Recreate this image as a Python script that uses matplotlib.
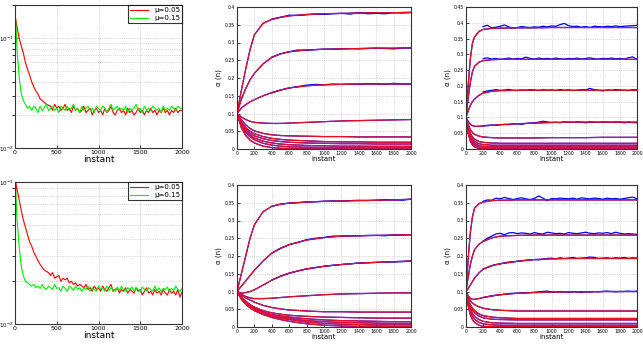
import numpy as np
import matplotlib
matplotlib.use("Agg")
import matplotlib.pyplot as plt
from matplotlib.ticker import NullFormatter, LogLocator

# ---- left panels: learning curves (log scale) ----
x_left = np.r_[0, 8, np.arange(25, 2001, 25)]

top_red = [0.030, 0.150,
           0.125, 0.100, 0.085, 0.073, 0.060, 0.052, 0.046, 0.040,
           0.036, 0.033, 0.031, 0.028, 0.027, 0.026, 0.025, 0.0245,
           0.024, 0.022, 0.025, 0.023, 0.024, 0.022, 0.023, 0.025,
           0.022, 0.023, 0.021, 0.024, 0.022, 0.023, 0.021, 0.022,
           0.024, 0.021, 0.022, 0.023, 0.020, 0.022, 0.023, 0.021,
           0.022, 0.020, 0.023, 0.021, 0.022, 0.024, 0.021, 0.020,
           0.022, 0.023, 0.021, 0.022, 0.020, 0.023, 0.021, 0.022,
           0.020, 0.021, 0.023, 0.021, 0.022, 0.020, 0.022, 0.021,
           0.023, 0.021, 0.022, 0.020, 0.022, 0.021, 0.023, 0.021,
           0.022, 0.020, 0.022, 0.021, 0.023, 0.021, 0.022, 0.022]
top_green = [0.028, 0.146,
             0.078, 0.044, 0.031, 0.027, 0.025, 0.023, 0.024, 0.022,
             0.024, 0.023, 0.021, 0.024, 0.022, 0.023, 0.025, 0.022,
             0.023, 0.024, 0.022, 0.023, 0.021, 0.024, 0.023, 0.022,
             0.024, 0.022, 0.023, 0.025, 0.022, 0.023, 0.021, 0.024,
             0.022, 0.023, 0.024, 0.022, 0.023, 0.021, 0.024, 0.023,
             0.022, 0.024, 0.023, 0.021, 0.023, 0.025, 0.022, 0.023,
             0.024, 0.022, 0.023, 0.022, 0.024, 0.021, 0.023, 0.022,
             0.023, 0.025, 0.022, 0.023, 0.021, 0.024, 0.022, 0.023,
             0.022, 0.024, 0.023, 0.022, 0.023, 0.021, 0.024, 0.022,
             0.023, 0.022, 0.024, 0.023, 0.022, 0.024, 0.023, 0.023]
bot_red = [0.0185, 0.100,
           0.088, 0.075, 0.063, 0.054, 0.048, 0.0425, 0.038, 0.0353,
           0.032, 0.030, 0.028, 0.0263, 0.025, 0.024, 0.0235, 0.023,
           0.022, 0.023, 0.021, 0.0215, 0.022, 0.020, 0.021, 0.0205,
           0.021, 0.0195, 0.020, 0.019, 0.0195, 0.0185, 0.019, 0.0185,
           0.018, 0.019, 0.0175, 0.018, 0.017, 0.0185, 0.0175, 0.018,
           0.017, 0.0185, 0.0175, 0.017, 0.018, 0.019, 0.017, 0.0175,
           0.018, 0.0165, 0.0175, 0.017, 0.018, 0.0165, 0.0175, 0.017,
           0.0165, 0.018, 0.017, 0.0175, 0.016, 0.017, 0.018, 0.0165,
           0.017, 0.016, 0.0175, 0.0165, 0.017, 0.016, 0.0175, 0.0165,
           0.016, 0.0175, 0.0165, 0.017, 0.016, 0.0175, 0.0155, 0.0168]
bot_green = [0.0185, 0.088,
             0.054, 0.035, 0.0255, 0.0218, 0.020, 0.0196, 0.019, 0.0185,
             0.019, 0.018, 0.0185, 0.0178, 0.019, 0.018, 0.0175, 0.0185,
             0.018, 0.0175, 0.019, 0.0178, 0.018, 0.017, 0.0185, 0.0178,
             0.017, 0.0185, 0.018, 0.0172, 0.0185, 0.0175, 0.018, 0.017,
             0.018, 0.0175, 0.0185, 0.017, 0.018, 0.0175, 0.017, 0.0185,
             0.0175, 0.018, 0.017, 0.0185, 0.0172, 0.018, 0.0175, 0.017,
             0.018, 0.0172, 0.0185, 0.0175, 0.017, 0.018, 0.0175, 0.0182,
             0.017, 0.018, 0.0175, 0.0168, 0.0182, 0.0175, 0.017, 0.018,
             0.0175, 0.017, 0.0185, 0.0172, 0.018, 0.0168, 0.0178, 0.0175,
             0.0182, 0.017, 0.0178, 0.0172, 0.0185, 0.0175, 0.017, 0.0178]
legend_labels = ["\u03bc=0.05", "\u03bc=0.15"]

# ---- middle panels: weight trajectories (slow) ----
x_mid = [0, 50, 100, 150, 200, 300, 400, 500, 600, 800, 1000, 1200, 1400, 1600, 1800, 2000]

theo_b = [
    [0.1, 0.165, 0.225, 0.28, 0.322, 0.354, 0.365, 0.371, 0.375, 0.379, 0.381, 0.382, 0.383, 0.384, 0.384, 0.385],
    [0.1, 0.14, 0.17, 0.195, 0.213, 0.24, 0.258, 0.268, 0.274, 0.279, 0.281, 0.282, 0.283, 0.284, 0.284, 0.285],
    [0.1, 0.115, 0.125, 0.133, 0.139, 0.15, 0.159, 0.166, 0.172, 0.178, 0.181, 0.182, 0.183, 0.183, 0.183, 0.183],
    [0.1, 0.09, 0.083, 0.078, 0.075, 0.073, 0.072, 0.072, 0.073, 0.075, 0.077, 0.079, 0.080, 0.081, 0.082, 0.083],
    [0.1, 0.082, 0.068, 0.058, 0.051, 0.044, 0.040, 0.038, 0.037, 0.036, 0.035, 0.035, 0.034, 0.034, 0.034, 0.034],
    [0.1, 0.076, 0.06, 0.05, 0.043, 0.035, 0.030, 0.027, 0.025, 0.023, 0.021, 0.020, 0.020, 0.019, 0.019, 0.019],
    [0.1, 0.072, 0.055, 0.044, 0.037, 0.029, 0.024, 0.021, 0.019, 0.017, 0.016, 0.015, 0.015, 0.014, 0.014, 0.014],
    [0.1, 0.07, 0.051, 0.039, 0.031, 0.022, 0.017, 0.014, 0.012, 0.010, 0.009, 0.008, 0.008, 0.0075, 0.0075, 0.0075],
    [0.1, 0.066, 0.046, 0.034, 0.026, 0.016, 0.011, 0.008, 0.006, 0.005, 0.004, 0.0035, 0.003, 0.003, 0.003, 0.003],
    [0.1, 0.06, 0.038, 0.025, 0.017, 0.008, 0.004, 0.002, 0.001, 0.0005, 0, 0, 0, 0, 0, 0],
]
theo_c = [
    [0.1, 0.15, 0.2, 0.25, 0.288, 0.325, 0.34, 0.346, 0.349, 0.352, 0.354, 0.355, 0.356, 0.357, 0.358, 0.36],
    [0.1, 0.115, 0.13, 0.145, 0.16, 0.186, 0.208, 0.222, 0.232, 0.245, 0.252, 0.256, 0.257, 0.258, 0.259, 0.26],
    [0.1, 0.095, 0.097, 0.1, 0.105, 0.118, 0.132, 0.143, 0.152, 0.164, 0.171, 0.176, 0.18, 0.182, 0.184, 0.186],
    [0.1, 0.092, 0.086, 0.082, 0.08, 0.08, 0.081, 0.083, 0.085, 0.088, 0.091, 0.093, 0.094, 0.095, 0.096, 0.096],
    [0.1, 0.09, 0.082, 0.076, 0.07, 0.061, 0.055, 0.051, 0.048, 0.045, 0.043, 0.043, 0.042, 0.042, 0.042, 0.042],
    [0.1, 0.085, 0.073, 0.063, 0.056, 0.046, 0.04, 0.036, 0.033, 0.03, 0.028, 0.027, 0.026, 0.025, 0.025, 0.025],
    [0.1, 0.083, 0.07, 0.06, 0.052, 0.042, 0.035, 0.031, 0.028, 0.023, 0.02, 0.018, 0.017, 0.016, 0.015, 0.015],
    [0.1, 0.082, 0.068, 0.058, 0.05, 0.04, 0.033, 0.028, 0.024, 0.018, 0.015, 0.013, 0.012, 0.011, 0.01, 0.01],
    [0.1, 0.08, 0.066, 0.056, 0.048, 0.038, 0.031, 0.025, 0.021, 0.014, 0.01, 0.008, 0.007, 0.006, 0.006, 0.006],
    [0.1, 0.078, 0.064, 0.054, 0.046, 0.035, 0.027, 0.021, 0.016, 0.009, 0.005, 0.003, 0.002, 0.002, 0.001, 0.001],
]
x_sim_mid = np.arange(400, 2001, 100)
sim_b = [
    [0.366, 0.371, 0.377, 0.376, 0.378, 0.380, 0.379, 0.381, 0.382, 0.380, 0.384, 0.381, 0.382, 0.381, 0.384, 0.383, 0.384],
    [0.259, 0.268, 0.274, 0.279, 0.278, 0.280, 0.281, 0.281, 0.282, 0.283, 0.282, 0.283, 0.284, 0.283, 0.282, 0.284, 0.285],
    [0.158, 0.166, 0.172, 0.176, 0.180, 0.182, 0.181, 0.183, 0.182, 0.183, 0.182, 0.184, 0.183, 0.182, 0.185, 0.183, 0.183],
]
sim_c = [
    [0.34, 0.346, 0.349, 0.35, 0.352, 0.353, 0.354, 0.355, 0.354, 0.356, 0.357, 0.356, 0.357, 0.359, 0.358, 0.357, 0.36],
    [0.208, 0.221, 0.232, 0.238, 0.246, 0.250, 0.252, 0.256, 0.256, 0.257, 0.257, 0.258, 0.258, 0.257, 0.259, 0.259, 0.260],
    [0.132, 0.143, 0.151, 0.158, 0.163, 0.167, 0.171, 0.174, 0.176, 0.178, 0.18, 0.181, 0.182, 0.183, 0.183, 0.184, 0.186],
]

# ---- right panels: weight trajectories (fast) ----
x_right = [0, 25, 50, 75, 100, 150, 200, 300, 400, 600, 800, 1000, 1200, 1400, 1600, 1800, 2000]

theo_d = [
    [0.1, 0.2, 0.285, 0.335, 0.355, 0.372, 0.379, 0.382, 0.383, 0.384, 0.384, 0.385, 0.385, 0.385, 0.385, 0.385, 0.385],
    [0.1, 0.16, 0.21, 0.245, 0.262, 0.275, 0.28, 0.283, 0.284, 0.284, 0.284, 0.284, 0.284, 0.284, 0.284, 0.284, 0.284],
    [0.1, 0.12, 0.138, 0.15, 0.158, 0.17, 0.177, 0.183, 0.185, 0.186, 0.186, 0.186, 0.186, 0.186, 0.186, 0.186, 0.186],
    [0.1, 0.088, 0.079, 0.074, 0.072, 0.072, 0.073, 0.075, 0.077, 0.080, 0.082, 0.084, 0.085, 0.085, 0.085, 0.085, 0.085],
    [0.1, 0.078, 0.062, 0.052, 0.046, 0.041, 0.038, 0.036, 0.035, 0.035, 0.035, 0.036, 0.036, 0.036, 0.037, 0.037, 0.037],
    [0.1, 0.07, 0.05, 0.038, 0.031, 0.024, 0.021, 0.019, 0.018, 0.018, 0.018, 0.018, 0.018, 0.018, 0.018, 0.018, 0.018],
    [0.1, 0.065, 0.043, 0.031, 0.024, 0.017, 0.014, 0.012, 0.012, 0.012, 0.012, 0.012, 0.012, 0.012, 0.012, 0.012, 0.012],
    [0.1, 0.06, 0.037, 0.025, 0.018, 0.011, 0.008, 0.007, 0.007, 0.007, 0.007, 0.007, 0.007, 0.007, 0.007, 0.007, 0.007],
    [0.1, 0.055, 0.031, 0.019, 0.012, 0.006, 0.004, 0.003, 0.003, 0.003, 0.003, 0.003, 0.003, 0.003, 0.003, 0.003, 0.003],
    [0.1, 0.05, 0.025, 0.013, 0.007, 0.002, 0.001, 0, 0, 0, 0, 0, 0, 0, 0, 0, 0],
]
theo_e = [
    [0.1, 0.19, 0.265, 0.31, 0.335, 0.347, 0.352, 0.356, 0.357, 0.358, 0.358, 0.358, 0.358, 0.358, 0.358, 0.358, 0.358],
    [0.1, 0.14, 0.175, 0.2, 0.218, 0.233, 0.241, 0.251, 0.256, 0.258, 0.259, 0.259, 0.259, 0.259, 0.259, 0.259, 0.259],
    [0.1, 0.108, 0.118, 0.128, 0.138, 0.152, 0.163, 0.173, 0.178, 0.185, 0.19, 0.192, 0.193, 0.193, 0.193, 0.193, 0.193],
    [0.1, 0.088, 0.081, 0.078, 0.078, 0.080, 0.083, 0.088, 0.091, 0.095, 0.097, 0.098, 0.099, 0.099, 0.1, 0.1, 0.1],
    [0.1, 0.085, 0.074, 0.067, 0.063, 0.057, 0.053, 0.049, 0.047, 0.045, 0.045, 0.045, 0.045, 0.045, 0.045, 0.045, 0.045],
    [0.1, 0.078, 0.063, 0.053, 0.046, 0.037, 0.032, 0.028, 0.026, 0.024, 0.024, 0.024, 0.024, 0.024, 0.024, 0.024, 0.024],
    [0.1, 0.075, 0.058, 0.047, 0.04, 0.031, 0.026, 0.022, 0.021, 0.02, 0.02, 0.02, 0.02, 0.02, 0.02, 0.02, 0.02],
    [0.1, 0.07, 0.05, 0.038, 0.03, 0.021, 0.016, 0.012, 0.011, 0.01, 0.01, 0.01, 0.01, 0.01, 0.01, 0.01, 0.01],
    [0.1, 0.065, 0.043, 0.03, 0.022, 0.013, 0.009, 0.006, 0.005, 0.005, 0.005, 0.005, 0.005, 0.005, 0.005, 0.005, 0.005],
    [0.1, 0.06, 0.035, 0.021, 0.013, 0.005, 0.002, 0.001, 0.001, 0.001, 0.001, 0.001, 0.001, 0.001, 0.001, 0.001, 0.001],
]
x_sim_right = np.arange(200, 2001, 50)
sim_d = [
    [0.388, 0.392, 0.384, 0.386, 0.389, 0.393, 0.387, 0.383, 0.385, 0.388,
     0.386, 0.385, 0.387, 0.386, 0.389, 0.387, 0.390, 0.389, 0.394, 0.398,
     0.391, 0.388, 0.389, 0.386, 0.388, 0.385, 0.389, 0.388, 0.387, 0.389,
     0.388, 0.390, 0.388, 0.389, 0.390, 0.391, 0.392],
    [0.286, 0.289, 0.285, 0.287, 0.284, 0.286, 0.288, 0.285, 0.287, 0.286,
     0.291, 0.287, 0.285, 0.288, 0.286, 0.287, 0.285, 0.288, 0.286, 0.285,
     0.287, 0.286, 0.288, 0.285, 0.287, 0.289, 0.286, 0.285, 0.287, 0.286,
     0.288, 0.286, 0.287, 0.285, 0.289, 0.292, 0.284],
    [0.181, 0.184, 0.186, 0.188, 0.186, 0.187, 0.189, 0.186, 0.185, 0.187,
     0.186, 0.188, 0.187, 0.185, 0.188, 0.186, 0.187, 0.185, 0.188, 0.186,
     0.187, 0.185, 0.186, 0.188, 0.187, 0.192, 0.188, 0.186, 0.184, 0.187,
     0.186, 0.188, 0.187, 0.186, 0.185, 0.188, 0.187],
    [0.074, 0.075, 0.076, 0.075, 0.077, 0.078, 0.077, 0.079, 0.080, 0.078,
     0.081, 0.082, 0.083, 0.085, 0.088, 0.086, 0.084, 0.085, 0.083, 0.086,
     0.085, 0.084, 0.086, 0.085, 0.083, 0.086, 0.085, 0.084, 0.086, 0.085,
     0.084, 0.086, 0.085, 0.083, 0.085, 0.084, 0.083],
]
sim_e = [
    [0.354, 0.358, 0.357, 0.363, 0.361, 0.365, 0.362, 0.359, 0.362, 0.364,
     0.361, 0.359, 0.362, 0.369, 0.363, 0.356, 0.362, 0.361, 0.363, 0.362,
     0.361, 0.363, 0.360, 0.364, 0.362, 0.361, 0.363, 0.362, 0.360, 0.363,
     0.361, 0.362, 0.360, 0.362, 0.364, 0.366, 0.361],
    [0.242, 0.250, 0.256, 0.262, 0.264, 0.260, 0.265, 0.266, 0.263, 0.265,
     0.264, 0.262, 0.266, 0.263, 0.262, 0.267, 0.265, 0.263, 0.264, 0.262,
     0.266, 0.264, 0.263, 0.265, 0.267, 0.264, 0.263, 0.265, 0.264, 0.266,
     0.263, 0.267, 0.264, 0.262, 0.263, 0.262, 0.261],
    [0.163, 0.168, 0.172, 0.176, 0.178, 0.181, 0.183, 0.184, 0.185, 0.187,
     0.188, 0.189, 0.190, 0.189, 0.191, 0.193, 0.194, 0.192, 0.195, 0.193,
     0.194, 0.196, 0.193, 0.194, 0.195, 0.197, 0.196, 0.193, 0.194, 0.195,
     0.193, 0.195, 0.194, 0.196, 0.193, 0.195, 0.194],
    [0.083, 0.085, 0.087, 0.089, 0.091, 0.092, 0.094, 0.095, 0.095, 0.096,
     0.097, 0.097, 0.098, 0.099, 0.100, 0.101, 0.099, 0.098, 0.100, 0.099,
     0.098, 0.100, 0.099, 0.097, 0.099, 0.098, 0.100, 0.099, 0.100, 0.101,
     0.100, 0.099, 0.100, 0.100, 0.101, 0.100, 0.101],
]

W, H = 643, 346
fig = plt.figure(figsize=(W / 100, H / 100), dpi=100)


def box(l, r, t, b):
    return [l / W, 1 - b / H, (r - l) / W, (b - t) / H]


def style(ax, fs):
    ax.tick_params(direction="in", labelsize=fs, length=2, width=0.5, pad=1.5)
    ax.grid(True, which="both", linestyle=":", linewidth=0.5, color="#b5b5b5")
    for s in ax.spines.values():
        s.set_linewidth(0.8)
        s.set_color("#333333")


def learning(ax, red, green, ylim):
    ax.semilogy(x_left, red, color="red", lw=0.8, label=legend_labels[0])
    ax.semilogy(x_left, green, color="#00ee00", lw=0.8, label=legend_labels[1])
    ax.set_xlim(0, 2000)
    ax.set_ylim(*ylim)
    ax.set_xticks([0, 500, 1000, 1500, 2000])
    ax.yaxis.set_major_locator(LogLocator(base=10))
    ax.yaxis.set_minor_locator(LogLocator(base=10, subs=np.arange(2, 10)))
    ax.yaxis.set_minor_formatter(NullFormatter())
    style(ax, 4.5)
    ax.tick_params(axis="y", which="both", labelsize=4, pad=1)
    ax.set_xlabel("instant", fontsize=6.5, labelpad=0)
    leg = ax.legend(loc="upper right", fontsize=5, frameon=True, fancybox=False,
                    handlelength=2.6, borderaxespad=0, borderpad=0.3, labelspacing=0.3)
    leg.get_frame().set_edgecolor("black")
    leg.get_frame().set_linewidth(0.8)


def weights(ax, xt, theo, xs, sim, ymax, yticks):
    for y in theo:
        ax.plot(xt, y, color="blue", lw=0.9)
    for y in sim:
        ax.plot(xs, y, color="blue", lw=0.9)
    for y in theo:
        ax.plot(xt, y, color="#e8102a", lw=0.85)
    ax.set_xlim(0, 2000)
    ax.set_ylim(0, ymax)
    ax.set_xticks(range(0, 2001, 200))
    ax.set_yticks(yticks)
    ax.set_yticklabels([("%g" % v) for v in yticks])
    style(ax, 3.3)
    ax.set_xlabel("instant", fontsize=5, labelpad=0)
    ax.set_ylabel("\u03b1 (n)", fontsize=5, labelpad=2)


ax1 = fig.add_axes(box(15, 182, 5, 148))
learning(ax1, top_red, top_green, (0.01, 0.2))
ax2 = fig.add_axes(box(15, 182, 182, 324))
learning(ax2, bot_red, bot_green, (0.01, 0.1))

t40 = [0, 0.05, 0.1, 0.15, 0.2, 0.25, 0.3, 0.35, 0.4]
t45 = t40 + [0.45]
ax3 = fig.add_axes(box(237, 411, 7, 149))
weights(ax3, x_mid, theo_b, x_sim_mid, sim_b, 0.4, t40)
ax4 = fig.add_axes(box(237, 411, 185, 327))
weights(ax4, x_mid, theo_c, x_sim_mid, sim_c, 0.4, t40)
ax5 = fig.add_axes(box(466, 637, 7, 149))
weights(ax5, x_right, theo_d, x_sim_right, sim_d, 0.45, t45)
ax6 = fig.add_axes(box(466, 637, 185, 327))
weights(ax6, x_right, theo_e, x_sim_right, sim_e, 0.4, t40)

fig.savefig("out.png", dpi=100)
